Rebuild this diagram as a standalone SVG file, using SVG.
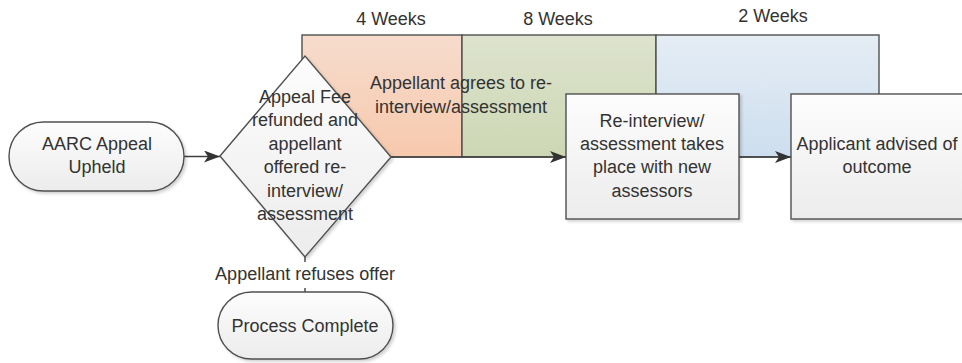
<svg xmlns="http://www.w3.org/2000/svg" width="962" height="363" viewBox="0 0 962 363">
<defs>
<style>
.t{font-family:"Liberation Sans",Arial,sans-serif;font-size:18px;fill:#333;text-anchor:middle}
.box{stroke:#505050;stroke-width:1.4}
.con{stroke:#404040;stroke-width:1.4;fill:none}
</style>
<linearGradient id="gBox" x1="0" y1="0" x2="0" y2="1">
<stop offset="0" stop-color="#fdfdfd"/><stop offset="1" stop-color="#ececec"/>
</linearGradient>
<linearGradient id="gOr" x1="0" y1="0" x2="0" y2="1">
<stop offset="0" stop-color="#f6dccd"/><stop offset="1" stop-color="#f7c9ad"/>
</linearGradient>
<linearGradient id="gGr" x1="0" y1="0" x2="0" y2="1">
<stop offset="0" stop-color="#dde3cd"/><stop offset="1" stop-color="#cdd7b4"/>
</linearGradient>
<linearGradient id="gBl" x1="0" y1="0" x2="0" y2="1">
<stop offset="0" stop-color="#e5edf5"/><stop offset="1" stop-color="#cddeee"/>
</linearGradient>
<filter id="sh" x="-10%" y="-10%" width="130%" height="130%">
<feDropShadow dx="2" dy="2" stdDeviation="1.5" flood-color="#000" flood-opacity="0.18"/>
</filter>
<marker id="arr" viewBox="0 0 16 12" refX="16" refY="6" markerWidth="16" markerHeight="12" markerUnits="userSpaceOnUse" orient="auto">
<path d="M0,0 L16,6 L0,12 L4,6 Z" fill="#333"/>
</marker>
</defs>
<rect width="962" height="363" fill="#fff"/>

<g id="phase-4weeks">
<rect class="box" x="302" y="35" width="160" height="122" fill="url(#gOr)"/>
<text class="t" x="391" y="25">4 Weeks</text>
</g>
<g id="phase-8weeks">
<rect class="box" x="462" y="35" width="194" height="122" fill="url(#gGr)"/>
<text class="t" x="558" y="25">8 Weeks</text>
</g>
<g id="phase-2weeks">
<rect class="box" x="656" y="35" width="223" height="122" fill="url(#gBl)"/>
<text class="t" x="773" y="22">2 Weeks</text>
</g>

<g id="connectors">
<line class="con" x1="184" y1="156.5" x2="220" y2="156.5" marker-end="url(#arr)"/>
<line class="con" x1="391" y1="157" x2="566" y2="157" marker-end="url(#arr)"/>
<line class="con" x1="739" y1="157" x2="791" y2="157" marker-end="url(#arr)"/>
<line class="con" x1="305" y1="257" x2="305" y2="292"/>
</g>

<g id="aarc">
<rect class="box" x="9" y="122" width="175" height="69" rx="34.5" fill="url(#gBox)" filter="url(#sh)"/>
<text class="t" x="97" y="150">AARC Appeal</text>
<text class="t" x="97" y="173">Upheld</text>
</g>

<g id="decision">
<polygon class="box" points="220,156 305,56 391,157 305,257" fill="url(#gBox)" filter="url(#sh)"/>
<text class="t" x="305" y="103">Appeal Fee</text>
<text class="t" x="305" y="126">refunded and</text>
<text class="t" x="305" y="150">appellant</text>
<text class="t" x="305" y="173">offered re-</text>
<text class="t" x="305" y="197">interview/</text>
<text class="t" x="305" y="220">assessment</text>
</g>

<g id="agrees-label">
<text class="t" x="461" y="89">Appellant agrees to re-</text>
<text class="t" x="461" y="113">interview/assessment</text>
</g>

<g id="refuses-label">
<rect x="210" y="262" width="190" height="26" fill="#fff"/>
<text class="t" x="305" y="280">Appellant refuses offer</text>
</g>

<g id="reinterview">
<rect class="box" x="566" y="94" width="173" height="125" fill="url(#gBox)" filter="url(#sh)"/>
<text class="t" x="652" y="127">Re-interview/</text>
<text class="t" x="652" y="150">assessment takes</text>
<text class="t" x="652" y="173">place with new</text>
<text class="t" x="652" y="197">assessors</text>
</g>

<g id="advised">
<rect class="box" x="791" y="94" width="180" height="125" fill="url(#gBox)" filter="url(#sh)"/>
<text class="t" x="877" y="150">Applicant advised of</text>
<text class="t" x="877" y="173">outcome</text>
</g>

<g id="complete">
<rect class="box" x="218" y="292" width="175" height="67" rx="33.5" fill="url(#gBox)" filter="url(#sh)"/>
<text class="t" x="305" y="332">Process Complete</text>
</g>
</svg>
